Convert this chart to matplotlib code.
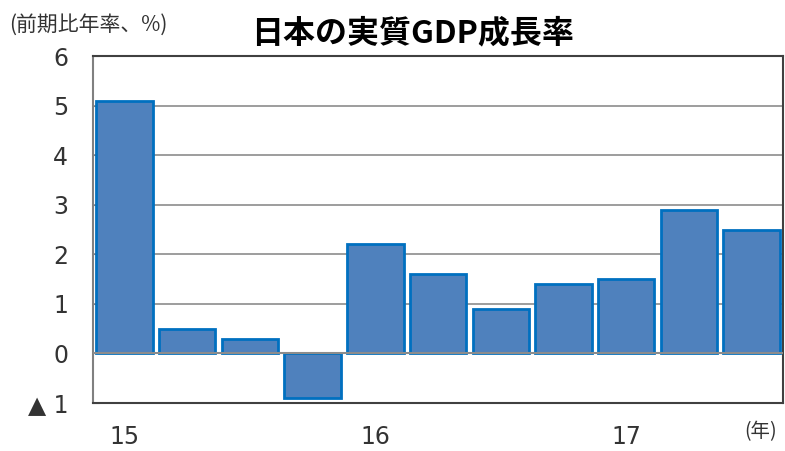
import numpy as np
import matplotlib.pyplot as plt

plt.rcParams['font.family'] = ['Noto Sans CJK JP', 'DejaVu Sans']

# 実質GDP成長率 (前期比年率、%)
quarters = ["15", "", "", "", "16", "", "", "", "17", "", ""]
growth = [5.1, 0.5, 0.3, -0.9, 2.2, 1.6, 0.9, 1.4, 1.5, 2.9, 2.5]
yticks = [-1, 0, 1, 2, 3, 4, 5, 6]
ylabels = ["▲ 1", "0", "1", "2", "3", "4", "5", "6"]

fig = plt.figure(figsize=(7.85, 4.51), dpi=100)
ax = fig.add_axes([0.1185, 0.1064, 0.879, 0.7694])

x = np.arange(len(growth))
ax.bar(x, growth, width=0.9, color="#4F81BD", edgecolor="#0070C0", linewidth=2, zorder=3)

ax.set_xlim(-0.5, len(growth) - 0.5)
ax.set_ylim(-1, 6)
ax.set_yticks(yticks)
ax.set_yticklabels(ylabels, family=['DejaVu Sans'])
ax.set_xticks(x)
ax.set_xticklabels(quarters, family=['DejaVu Sans'])
ax.tick_params(axis="x", length=0, pad=16, labelsize=17, labelcolor="#333333")
ax.tick_params(axis="y", length=4, direction="in", pad=18, labelsize=17,
               labelcolor="#333333", color="#808080")

ax.grid(axis="y", color="#8C8C8C", linewidth=1.2, zorder=1)
ax.axhline(0, color="#8C8C8C", linewidth=1.5, zorder=4)

for side in ["top", "right", "bottom"]:
    ax.spines[side].set_color("#404040")
    ax.spines[side].set_linewidth(1.5)
ax.spines["left"].set_color("#808080")
ax.spines["left"].set_linewidth(1.5)

fig.text(0.012, 0.945, "(前期比年率、%)", fontsize=15, color="#333333", va="center")
fig.text(0.525, 0.925, "日本の実質GDP成長率", fontsize=23, fontweight="bold", ha="center", va="center")
fig.text(0.948, 0.02, "(年)", fontsize=14, color="#333333", va="bottom")

fig.savefig("out.png", dpi=100)
